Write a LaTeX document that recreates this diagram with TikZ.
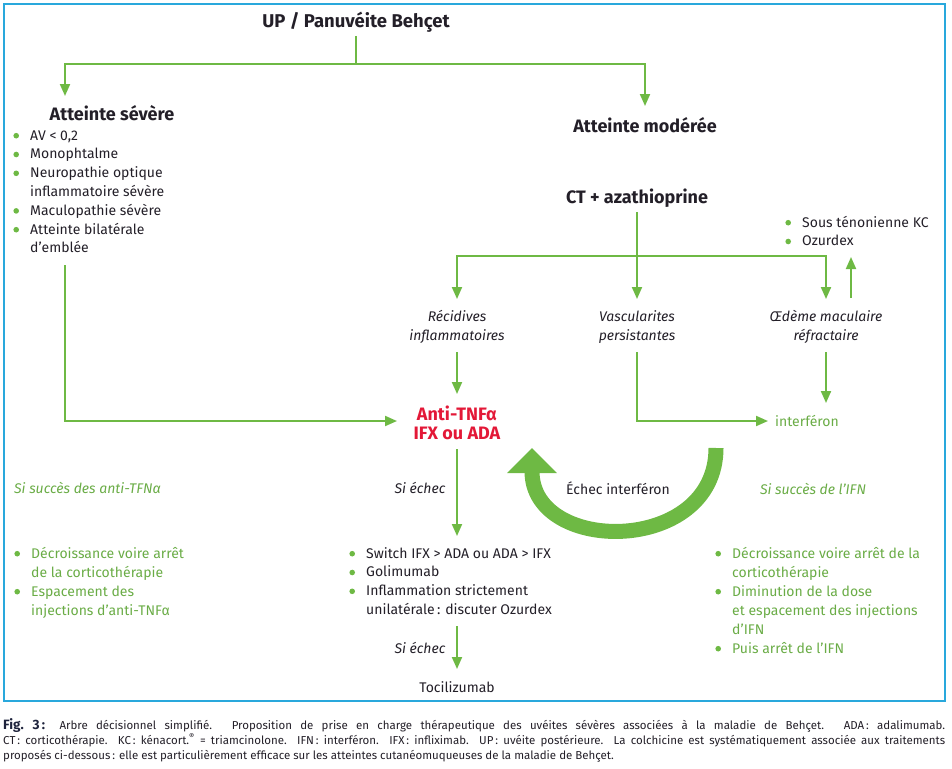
\documentclass[tikz,border=0pt]{standalone}
\usepackage{fontspec}
\setmainfont{Fira Sans}
\usetikzlibrary{arrows.meta}
\definecolor{gl}{RGB}{110,185,68}
\definecolor{gt}{RGB}{106,172,70}
\definecolor{rd}{RGB}{227,24,55}
\definecolor{fr}{RGB}{41,168,220}
\definecolor{tx}{RGB}{35,31,40}
\definecolor{capb}{RGB}{30,35,60}
\newcommand\bul{\makebox[0pt][r]{\raisebox{1.5pt}{\tikz\fill[gl] (0,0) circle (2.8pt);}\hspace{11.2pt}}}
\newcommand\lst[2]{\parbox[t]{#1}{\raggedright #2}}
\newcommand\ctr[2]{\parbox[t]{#1}{\centering #2}}
\begin{document}
\begin{tikzpicture}[x=1pt,y=-1pt,
  ln/.style={draw=gl,line width=2pt},
  arr/.style={ln,-{Triangle[width=10pt,length=12pt]}},
  txt/.style={inner sep=0pt,text=tx,font=\fontsize{14}{18.8}\selectfont},
  ital/.style={inner sep=0pt,text=tx,font=\itshape\fontsize{14}{19.5}\selectfont},
  gital/.style={inner sep=0pt,text=gt,font=\itshape\fontsize{14}{19}\selectfont},
  gtxt/.style={inner sep=0pt,text=gt,font=\fontsize{14}{19}\selectfont},
  head/.style={inner sep=0pt,text=tx,font=\bfseries\fontsize{18}{20}\selectfont},
  ttl/.style={inner sep=0pt,text=tx,font=\bfseries\fontsize{18.5}{20}\selectfont},
  red/.style={inner sep=0pt,text=rd,font=\bfseries\fontsize{18}{19.5}\selectfont},
  frame/.style={draw=fr,line width=2.5pt},
  big/.style={draw=gl,line width=15pt,-{Triangle[width=48pt,length=25pt]}}]
\useasboundingbox (0,0) rectangle (952,768);
\draw[frame] (4,4) rectangle (945,701);

% nodes
\node[ttl,anchor=base] (up) at (356,28) {UP / Panuvéite Behçet};
\node[head,anchor=base] (sev) at (112,120) {Atteinte sévère};
\node[head,anchor=base] (mod) at (645,132) {Atteinte modérée};
\node[head,anchor=base] (ct) at (637,203) {CT + azathioprine};
\node[txt,anchor=base west] (sevl) at (30,140) {\lst{220pt}{\bul AV < 0,2\\ \bul Monophtalme\\ \bul Neuropathie optique\\ inflammatoire sévère\\ \bul Maculopathie sévère\\ \bul Atteinte bilatérale\\ d’emblée}};
\node[txt,anchor=base west] (sous) at (802,227) {\lst{140pt}{\bul Sous ténonienne KC\\ \bul Ozurdex}};
\node[ital,anchor=base] (rec) at (457,321) {\ctr{130pt}{Récidives\\ inflammatoires}};
\node[ital,anchor=base] (vas) at (637,321) {\ctr{130pt}{Vascularites\\ persistantes}};
\node[ital,anchor=base] (oed) at (826,321) {\ctr{130pt}{Œdème maculaire\\ réfractaire}};
\node[red,anchor=base] (anti) at (457,420) {\ctr{130pt}{Anti-TNFα\\ IFX ou ADA}};
\node[gtxt,anchor=base west] (ifn) at (775,426) {interféron};
\node[gital,anchor=base west] (sa) at (14,493) {Si succès des anti-TFNα};
\node[ital,anchor=base] (se1) at (420,493) {Si échec};
\node[txt,anchor=base] (ei) at (618,494) {Échec interféron};
\node[gital,anchor=base] (si) at (813,494) {Si succès de l’IFN};
\node[gtxt,anchor=base west] (gl1) at (31,558) {\lst{250pt}{\bul Décroissance voire arrêt\\ de la corticothérapie\\ \bul Espacement des\\ injections d’anti-TNFα}};
\node[txt,anchor=base west] (ech) at (366,558) {\lst{260pt}{\bul Switch IFX > ADA ou ADA > IFX\\ \bul Golimumab\\ \bul Inflammation strictement\\ unilatérale\,: discuter Ozurdex}};
\node[gtxt,anchor=base west] (gl2) at (732,558) {\lst{215pt}{\bul Décroissance voire arrêt de la\\ corticothérapie\\ \bul Diminution de la dose\\ et espacement des injections\\ d’IFN\\ \bul Puis arrêt de l’IFN}};
\node[ital,anchor=base] (se2) at (420,653) {Si échec};
\node[txt,anchor=base] (toc) at (457,692) {Tocilizumab};

% caption
\node[inner sep=0pt,text=tx,anchor=base west,font=\fontsize{11.5}{15}\selectfont] (cap) at (3,729) {\parbox[t]{942pt}{\noindent{\bfseries\fontsize{13.5}{15}\selectfont\color{capb}Fig.~3\,:} Arbre décisionnel simplifié. Proposition de prise en charge thérapeutique des uvéites sévères associées à la maladie de Behçet. ADA\,: adalimumab.\linebreak
CT\,: corticothérapie. KC\,: kénacort.\textsuperscript{®} = triamcinolone. IFN\,: interféron. IFX\,: infliximab. UP\,: uvéite postérieure. La colchicine est systématiquement associée aux traitements\linebreak
proposés ci-dessous\,: elle est particulièrement efficace sur les atteintes cutanéomuqueuses de la maladie de Behçet.}};

% coordinates
\coordinate (j0) at (356,64);
\coordinate (upb) at (356,36);
\coordinate (sevt) at (65,96);
\coordinate (modt) at (645,106);
\coordinate (ctb) at (637,212);
\coordinate (j1) at (637,256);
\coordinate (rect) at (457,299);
\coordinate (vast) at (637,299);
\coordinate (oedt) at (826,299);
\coordinate (oedu) at (851,298);
\coordinate (sousb) at (851,257);
\coordinate (recb) at (457,352);
\coordinate (antit) at (457,394);
\coordinate (sevb) at (65,265);
\coordinate (antil) at (397,421);
\coordinate (vasb) at (637,352);
\coordinate (ifnl) at (768,421);
\coordinate (oedb) at (826,352);
\coordinate (oedd) at (826,403);
\coordinate (antib) at (457,449);
\coordinate (echt) at (457,536);
\coordinate (echb) at (457,626);
\coordinate (toct) at (457,669);
\coordinate (bigA) at (716,448);
\coordinate (bigB) at (532,448);

% connectors
\draw[ln] (upb) -- (j0);
\draw[arr] (j0) -| (sevt);
\draw[arr] (j0) -| (modt);
\draw[arr] (ctb) -- (vast);
\draw[arr] (j1) -| (rect);
\draw[arr] (j1) -| (oedt);
\draw[arr] (oedu) -- (sousb);
\draw[arr] (recb) -- (antit);
\draw[arr] (sevb) |- (antil);
\draw[arr] (vasb) |- (ifnl);
\draw[arr] (oedb) -- (oedd);
\draw[arr] (antib) -- (echt);
\draw[arr] (echb) -- (toct);
\draw[big] (bigA) .. controls (716,555) and (532,555) .. (bigB);
\end{tikzpicture}
\end{document}
